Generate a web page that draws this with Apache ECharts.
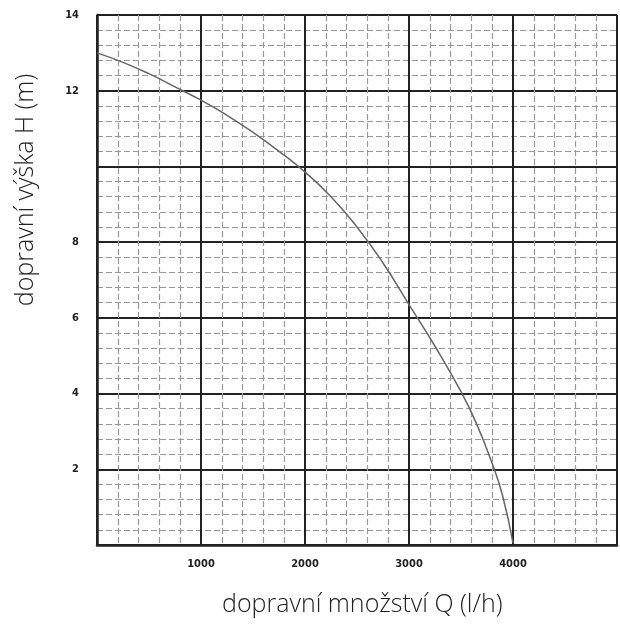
<!DOCTYPE html><html><head><meta charset="utf-8"><script src="https://cdn.jsdelivr.net/npm/echarts@6/dist/echarts.min.js"></script>
<style>body{margin:0;background:#fff}#c{width:620px;height:631px}</style></head><body><div id="c"></div><script>
const flow=[0,250,500,750,1000,1250,1500,1750,2000,2250,2500,2750,3000,3250,3500,3650,3800,3900,4000];
const head=[13.0,12.75,12.45,12.1,11.75,11.35,10.9,10.4,9.85,9.2,8.4,7.45,6.35,5.25,4.05,3.2,2.15,1.3,0.05];
const xLabels=[1000,2000,3000,4000];
const yLabels=[2,4,6,8,12,14];
const c=echarts.init(document.getElementById('c'));
const lbl={fontFamily:'DejaVu Sans Condensed',fontWeight:'bold',fontSize:11,color:'#222'};
c.setOption({animation:false,
grid:{left:97,top:15,width:522,height:530},
xAxis:{type:'value',min:0,max:5000,interval:1000,
 axisLine:{lineStyle:{color:'#222',width:2.5}},axisTick:{show:false},
 axisLabel:Object.assign({margin:14,formatter:v=>xLabels.includes(v)?String(v):''},lbl),
 splitLine:{lineStyle:{color:'#222',width:2}},
 minorTick:{show:false,splitNumber:5},
 minorSplitLine:{show:true,lineStyle:{color:'#999',width:1.2,type:[6,3]}}},
yAxis:{type:'value',min:0,max:14,interval:2,
 axisLine:{show:true,lineStyle:{color:'#222',width:2.5}},axisTick:{show:false},
 axisLabel:Object.assign({margin:18,formatter:v=>yLabels.includes(v)?String(v):''},lbl),
 splitLine:{lineStyle:{color:'#222',width:2}},
 minorTick:{show:false,splitNumber:5},
 minorSplitLine:{show:true,lineStyle:{color:'#999',width:1.2,type:[6,3]}}},
series:[{type:'line',data:flow.map((x,i)=>[x,head[i]]),smooth:0.5,symbol:'none',lineStyle:{color:'#666',width:1.5}}],
graphic:[
 {type:'text',left:222,top:592,style:{text:'dopravní množství Q (l/h)',font:'300 25px "Open Sans"',fill:'#222'}},
 {type:'text',x:26,y:190,rotation:Math.PI/2,style:{text:'dopravní výška H (m)',font:'300 25px "Open Sans"',fill:'#222',align:'center',verticalAlign:'middle'}}
]});
</script></body></html>
